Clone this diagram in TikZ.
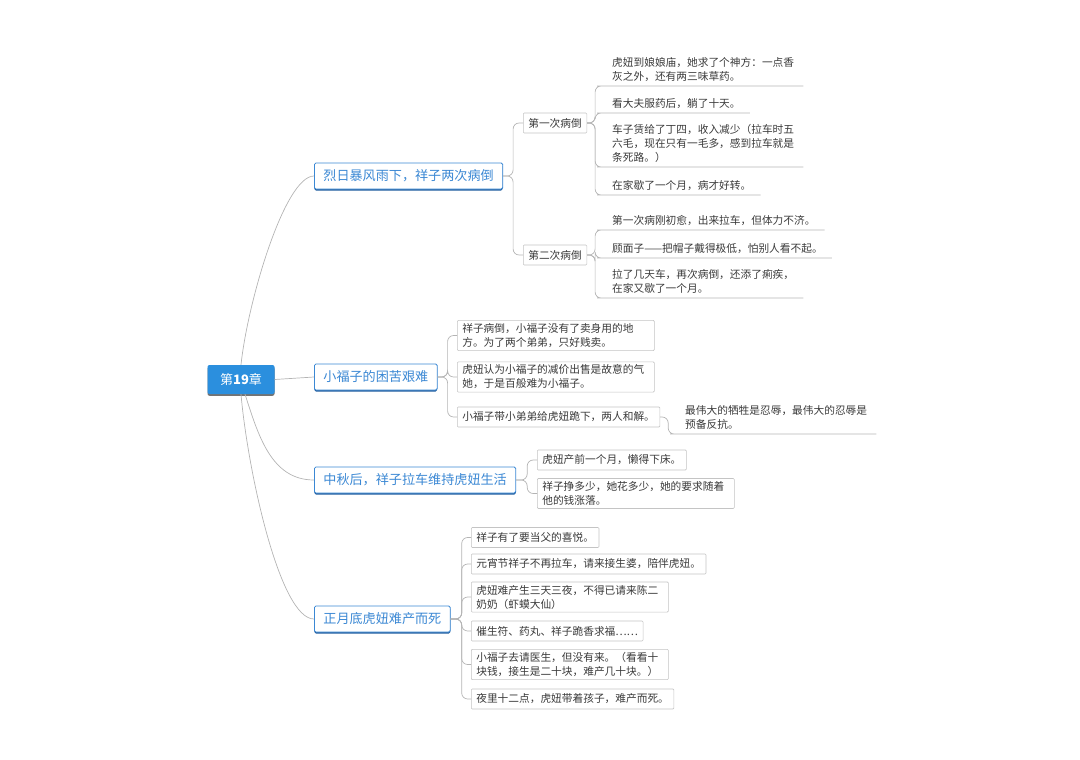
\documentclass[tikz,border=0pt]{standalone}
\usepackage{fontspec}
\setmainfont{Noto Sans CJK SC}
\usepackage{xcolor}
\usetikzlibrary{shadows}

\definecolor{rootblue}{HTML}{2B8FDE}
\definecolor{topicblue}{HTML}{3B88D4}
\definecolor{topicshade}{HTML}{1E5C9E}
\definecolor{linkgray}{HTML}{B4B4B4}
\definecolor{boxgray}{HTML}{C4C4C4}
\definecolor{inkgray}{HTML}{3A3A3A}

\tikzset{
	rootnode/.style={fill=rootblue, text=white, rounded corners=2pt,
		minimum width=67pt, minimum height=29pt, inner sep=0pt,
		font=\fontsize{13}{15}\selectfont,
		drop shadow={shadow xshift=0pt, shadow yshift=-1.8pt, fill=black!55, opacity=1}},
	topic/.style={draw=topicblue, fill=white, text=topicblue, line width=0.8pt,
		rounded corners=1.5pt, inner xsep=9pt, inner ysep=0pt, minimum height=26pt,
		anchor=west, font=\fontsize{13.1}{15}\selectfont,
		drop shadow={shadow xshift=0pt, shadow yshift=-1.5pt, fill=topicshade, opacity=1}},
	subbox/.style={draw=boxgray, fill=white, text=inkgray, line width=0.6pt,
		rounded corners=1pt, inner xsep=5pt, inner ysep=3pt, minimum height=20pt,
		align=left, anchor=west, font=\fontsize{10.7}{14}\selectfont},
	widebox/.style={subbox, text width=187pt},
	leaf/.style={text=inkgray, inner xsep=9pt, inner ysep=4pt, align=left,
		anchor=south west, font=\fontsize{10.7}{14}\selectfont},
	link/.style={draw=linkgray, line width=0.7pt, rounded corners=6pt},
}

\begin{document}
\begin{tikzpicture}[x=1pt,y=-1pt]
	\useasboundingbox (0,0) rectangle (1080,760);

	% root and main topics
	\node (root) at (241,379.5) [rootnode] {第{\bfseries 19}章};
	\node (sick) at (314,176) [topic] {烈日暴风雨下，祥子两次病倒};
	\node (fuzi) at (314,377) [topic] {小福子的困苦艰难};
	\node (autumn) at (314,480) [topic] {中秋后，祥子拉车维持虎妞生活};
	\node (death) at (314,619) [topic] {正月底虎妞难产而死};

	\draw[link] (root.north) to[out=84,in=180,out looseness=0.8,in looseness=0.37] (sick.west);
	\draw[link] (root.east) -- (fuzi.west);
	\draw[link] ([xshift=4pt]root.south) to[out=-72,in=180] (autumn.west);
	\draw[link] (root.south) to[out=-85,in=180,out looseness=0.83,in looseness=0.37] (death.west);

	% two illnesses
	\node (firstsick) at (523,123) [subbox] {第一次病倒};
	\node (secondsick) at (523,255) [subbox] {第二次病倒};
	\foreach \c in {firstsick,secondsick}
		\draw[link] (sick.east) -- ++(10,0) |- (\c.west);

	\node (fa) at (603,86) [leaf] {虎妞到娘娘庙，她求了个神方：一点香\\灰之外，还有两三味草药。};
	\node (fb) at (603,113) [leaf] {看大夫服药后，躺了十天。};
	\node (fc) at (603,167) [leaf] {车子赁给了丁四，收入减少（拉车时五\\六毛，现在只有一毛多，感到拉车就是\\条死路。）};
	\node (fd) at (603,195) [leaf] {在家歇了一个月，病才好转。};
	\foreach \c in {fa,fb,fc,fd}
		\draw[link] (firstsick.east) -- ++(8,0) |- (\c.south west) -- (\c.south east);

	\node (sa) at (603,230) [leaf] {第一次病刚初愈，出来拉车，但体力不济。};
	\node (sb) at (603,258) [leaf] {顾面子——把帽子戴得极低，怕别人看不起。};
	\node (sc) at (603,298) [leaf] {拉了几天车，再次病倒，还添了痢疾，\\在家又歇了一个月。};
	\foreach \c in {sa,sb,sc}
		\draw[link] (secondsick.east) -- ++(8,0) |- (\c.south west) -- (\c.south east);

	% xiao fuzi
	\node (fa1) at (457,335.5) [widebox] {祥子病倒，小福子没有了卖身用的地\\方。为了两个弟弟，只好贱卖。};
	\node (fa2) at (457,377) [widebox] {虎妞认为小福子的减价出售是故意的气\\她，于是百般难为小福子。};
	\node (fa3) at (457,417) [subbox] {小福子带小弟弟给虎妞跪下，两人和解。};
	\foreach \c in {fa1,fa2,fa3}
		\draw[link] (fuzi.east) -- ++(10,0) |- (\c.west);

	\node (fa3a) at (676,434) [leaf] {最伟大的牺牲是忍辱，最伟大的忍辱是\\预备反抗。};
	\draw[link] (fa3.east) -- ++(8,0) |- (fa3a.south west) -- (fa3a.south east);

	% autumn
	\node (au1) at (537,460) [subbox] {虎妞产前一个月，懒得下床。};
	\node (au2) at (537,493.5) [widebox] {祥子挣多少，她花多少，她的要求随着\\他的钱涨落。};
	\foreach \c in {au1,au2}
		\draw[link] (autumn.east) -- ++(11,0) |- (\c.west);

	% death
	\node (de1) at (471,537.5) [subbox] {祥子有了要当父的喜悦。};
	\node (de2) at (471,564) [subbox] {元宵节祥子不再拉车，请来接生婆，陪伴虎妞。};
	\node (de3) at (471,597) [widebox] {虎妞难产生三天三夜，不得已请来陈二\\奶奶（虾蟆大仙）};
	\node (de4) at (471,631) [subbox] {催生符、药丸、祥子跪香求福……};
	\node (de5) at (471,664.5) [widebox] {小福子去请医生，但没有来。（看看十\\块钱，接生是二十块，难产几十块。）};
	\node (de6) at (471,699) [subbox] {夜里十二点，虎妞带着孩子，难产而死。};
	\foreach \c in {de1,de2,de3,de4,de5,de6}
		\draw[link] (death.east) -- ++(11,0) |- (\c.west);
\end{tikzpicture}
\end{document}
